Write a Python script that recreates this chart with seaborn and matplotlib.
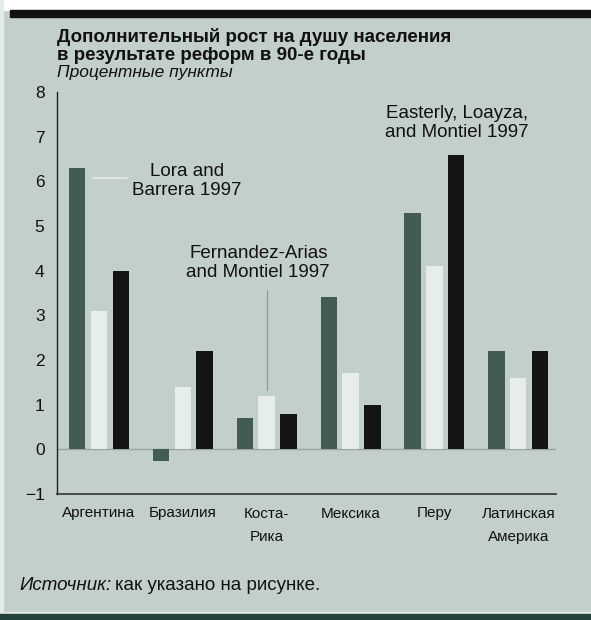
import pandas as pd
import matplotlib.pyplot as plt
import seaborn as sns
from matplotlib.patches import Rectangle

# Data
countries = ['Аргентина', 'Бразилия', 'Коста-\nРика', 'Мексика', 'Перу', 'Латинская\nАмерика']
studies = ['Lora and Barrera 1997', 'Fernandez-Arias and Montiel 1997', 'Easterly, Loayza, and Montiel 1997']
lora = [6.3, -0.25, 0.7, 3.4, 5.3, 2.2]
fernandez = [3.1, 1.4, 1.2, 1.7, 4.1, 1.6]
easterly = [4.0, 2.2, 0.8, 1.0, 6.6, 2.2]

df = pd.DataFrame({
    'country': countries * 3,
    'study': [studies[0]] * 6 + [studies[1]] * 6 + [studies[2]] * 6,
    'value': lora + fernandez + easterly,
})

bg = '#c3cfc9'
green = '#3e6053'
light = '#e6eeea'
black = '#141414'

sns.set_style('white')
plt.rcParams['font.family'] = ['Liberation Sans', 'DejaVu Sans']

fig = plt.figure(figsize=(5.91, 6.20), dpi=100)
fig.patch.set_facecolor(bg)
# frame decorations (top band, bottom rule)
fig.patches.append(Rectangle((0, 1 - 10 / 620), 1, 10 / 620, transform=fig.transFigure, color='white', zorder=0))
fig.patches.append(Rectangle((10 / 591, 1 - 17 / 620), 1, 7 / 620, transform=fig.transFigure, color='#111111', zorder=0))
fig.patches.append(Rectangle((0, 0), 3 / 591, 1, transform=fig.transFigure, color='#e4ece8', zorder=0))
fig.patches.append(Rectangle((0, 6 / 620), 1, 2 / 620, transform=fig.transFigure, color='#dfe8e4', zorder=0))
fig.patches.append(Rectangle((0, 0), 1, 6 / 620, transform=fig.transFigure, color='#24423c', zorder=0))

ax = fig.add_axes([57 / 591, 1 - 494 / 620, 499 / 591, 402 / 620])
ax.set_facecolor(bg)

sns.barplot(data=df, x='country', y='value', hue='study', palette=[green, light, black],
            width=0.78, gap=0.25, legend=False, ax=ax, zorder=3)
for bar in ax.patches:
    if bar.get_facecolor()[:3] == plt.matplotlib.colors.to_rgb(light):
        bar.set_edgecolor('#9aa8a2')
        bar.set_linewidth(0.8)
    else:
        bar.set_edgecolor('none')

ax.axhline(0, color='#97a39e', lw=1, zorder=2)
ax.set_ylim(-1, 8)
ax.set_xlim(-0.5, 5.45)
ax.set_yticks(range(-1, 9))
ax.set_yticklabels(['\u22121'] + [str(i) for i in range(0, 9)])
ax.set_xlabel('')
ax.set_ylabel('')
ax.tick_params(axis='y', length=0, pad=9, labelsize=12.5, colors='#111111')
ax.tick_params(axis='x', length=0, pad=9, labelsize=11, colors='#111111')
for lab in ax.get_xticklabels():
    lab.set_linespacing(1.85)
    lab.set_verticalalignment('top')
for s in ['top', 'right']:
    ax.spines[s].set_visible(False)
ax.spines['left'].set_color('#222222')
ax.spines['bottom'].set_color('#333333')
ax.spines['left'].set_linewidth(1)
ax.spines['bottom'].set_linewidth(1.2)

# study labels with leader lines
txt = dict(ha='center', va='center', fontsize=13.5, linespacing=1.15, color='#111111')
ax.plot([-0.07, 0.33], [6.08, 6.08], color='#dce6e1', lw=1.5, zorder=2)
ax.text(1.05, 6.0, 'Lora and\nBarrera 1997', **txt)
ax.plot([2.0, 2.0], [3.56, 1.32], color='#8f9b96', lw=0.9, zorder=2)
ax.text(1.90, 4.18, 'Fernandez-Arias\nand Montiel 1997', **txt)
ax.text(4.27, 7.3, 'Easterly, Loayza,\nand Montiel 1997', **txt)

# titles
fig.text(57 / 591, 1 - 37 / 620, 'Дополнительный рост на душу населения', fontsize=13.5,
         fontweight='bold', va='center', color='#111111')
fig.text(57 / 591, 1 - 55 / 620, 'в результате реформ в 90-е годы', fontsize=13.5,
         fontweight='bold', va='center', color='#111111')
fig.text(57 / 591, 1 - 73 / 620, 'Процентные пункты', fontsize=12.5, style='italic',
         va='center', color='#111111')

# source line: italic word followed by plain text
src = fig.text(19 / 591, 1 - 585 / 620, 'Источник:', fontsize=13.5, style='italic', va='center', color='#111111')
fig.canvas.draw()
bb = src.get_window_extent(renderer=fig.canvas.get_renderer())
fig.text(bb.x1 / fig.bbox.width + 4 / 591, 1 - 585 / 620, 'как указано на рисунке.', fontsize=13.5,
         va='center', color='#111111')

plt.savefig('out.png', dpi=100, facecolor=fig.get_facecolor())
